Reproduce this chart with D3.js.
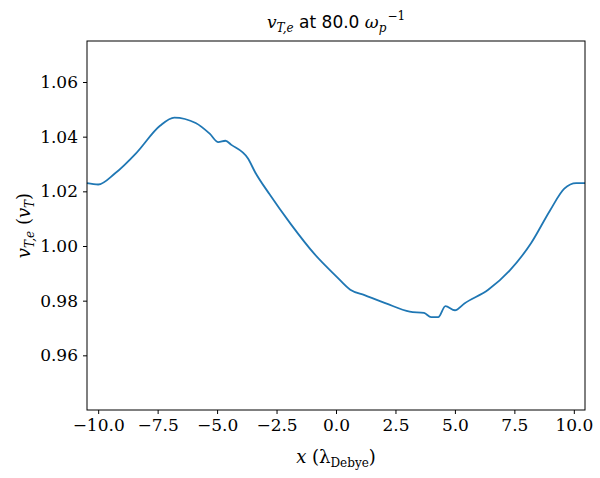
<!DOCTYPE html>
<html><head><meta charset="utf-8">
<script src="https://cdn.jsdelivr.net/npm/d3@7"></script>
<style>body{margin:0;background:#fff}text{fill:#000}</style>
</head><body><div id="chart"></div>
<script>
// curve
const xs = [-10.47,-10,-9.3,-8.4,-7.4,-6.8,-5.9,-5.3,-4.95,-4.65,-4.4,-3.7,-3.4,-2.8,-1.9,-0.9,0,0.6,1.2,2.1,3.1,3.7,4.0,4.3,4.6,5.0,5.4,6.4,7.3,8.2,9.0,9.6,10.1,10.47];
const vs = [1.023,1.0225,1.0265,1.034,1.044,1.047,1.045,1.041,1.038,1.0385,1.037,1.032,1.027,1.019,1.008,0.997,0.989,0.984,0.982,0.979,0.976,0.9755,0.974,0.974,0.978,0.9765,0.979,0.984,0.991,1.001,1.013,1.021,1.023,1.023];
const xTicks = [-10,-7.5,-5,-2.5,0,2.5,5,7.5,10];
const yTicks = [0.96,0.98,1.00,1.02,1.04,1.06];

const W = 600, H = 478;
const m = {left: 87, right: 15, top: 41, bottom: 68};
const svg = d3.select("#chart").append("svg").attr("width", W).attr("height", H);
const x = d3.scaleLinear().domain([-10.47, 10.47]).range([m.left, W - m.right]);
const y = d3.scaleLinear().domain([0.94, 1.075]).range([H - m.bottom, m.top]);
const serif = "'DejaVu Serif', serif";

const line = d3.line().x((d, i) => x(xs[i])).y(d => y(d)).curve(d3.curveMonotoneX);
svg.append("path").datum(vs).attr("d", line)
  .attr("fill", "none").attr("stroke", "#1f77b4").attr("stroke-width", 1.8);

const gx = svg.append("g").attr("transform", `translate(0,${H - m.bottom})`)
  .call(d3.axisBottom(x).tickValues(xTicks).tickFormat(d3.format(".1f")).tickSizeOuter(0).tickSize(4).tickPadding(5));
const gy = svg.append("g").attr("transform", `translate(${m.left},0)`)
  .call(d3.axisLeft(y).tickValues(yTicks).tickFormat(d3.format(".2f")).tickSizeOuter(0).tickSize(4).tickPadding(5));
[gx, gy].forEach(g => {
  g.selectAll("text").style("font-family", serif).style("font-size", "17px").text(function(){return this.textContent.replace("-", "\u2212");});
  g.select(".domain").remove();
});
svg.append("rect").attr("x", m.left).attr("y", m.top)
  .attr("width", W - m.left - m.right).attr("height", H - m.top - m.bottom)
  .attr("fill", "none").attr("stroke", "#000").attr("stroke-width", 1);

// x label
const xl = svg.append("text").attr("x", (m.left + W - m.right) / 2).attr("y", 463)
  .attr("text-anchor", "middle").style("font-family", serif).style("font-size", "18px");
xl.append("tspan").attr("font-style", "italic").text("x");
xl.append("tspan").text(" (λ");
xl.append("tspan").attr("dy", 4).style("font-size", "12px").text("Debye");
xl.append("tspan").attr("dy", -4).text(")");

// y label
const yl = svg.append("text").attr("transform", `translate(30,${(m.top + H - m.bottom) / 2}) rotate(-90)`)
  .attr("text-anchor", "middle").style("font-family", serif).style("font-size", "18px");
yl.append("tspan").attr("font-style", "italic").text("v");
yl.append("tspan").attr("dy", 4).attr("font-style", "italic").style("font-size", "12px").text("T,e");
yl.append("tspan").attr("dy", -4).text(" (");
yl.append("tspan").attr("font-style", "italic").text("v");
yl.append("tspan").attr("dy", 4).attr("font-style", "italic").style("font-size", "12px").text("T");
yl.append("tspan").attr("dy", -4).text(")");

// title
const t = svg.append("text").attr("x", (m.left + W - m.right) / 2).attr("y", 28)
  .attr("text-anchor", "middle").style("font-family", "'DejaVu Sans', sans-serif").style("font-size", "17px");
t.append("tspan").attr("font-style", "italic").style("font-family", serif).text("v");
t.append("tspan").attr("dy", 4).attr("font-style", "italic").style("font-family", serif).style("font-size", "12px").text("T,e");
t.append("tspan").attr("dy", -4).text(" at 80.0 ");
t.append("tspan").attr("font-style", "italic").style("font-family", serif).text("ω");
t.append("tspan").attr("dy", 4).attr("font-style", "italic").style("font-family", serif).style("font-size", "12px").text("p");
t.append("tspan").attr("dy", -12).attr("dx", 1).style("font-family", serif).style("font-size", "12px").text("−1");
</script></body></html>
